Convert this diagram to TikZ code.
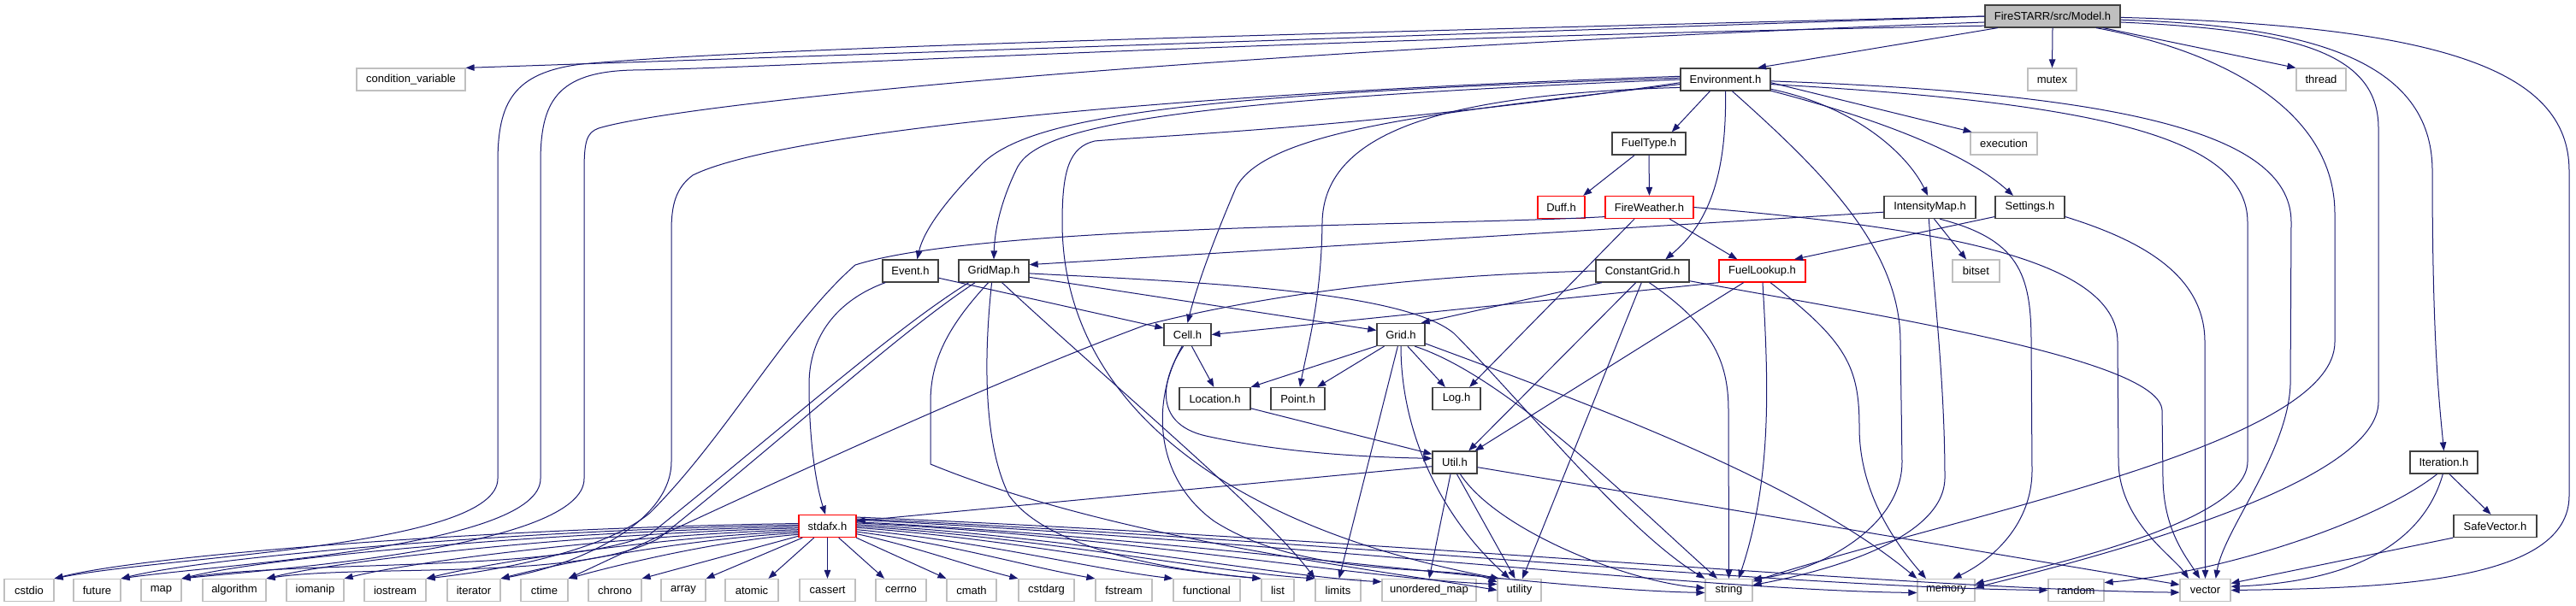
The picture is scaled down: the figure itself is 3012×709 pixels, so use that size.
\documentclass[tikz,border=0pt]{standalone}
\usepackage{fontspec}
\setmainfont{Liberation Sans}
\usetikzlibrary{arrows.meta}
\definecolor{edgecol}{HTML}{191970}
\definecolor{sysgray}{HTML}{BFBFBF}
\definecolor{prjdark}{HTML}{404040}
\definecolor{truncred}{HTML}{FF0000}
\begin{document}
\begin{tikzpicture}[x=1pt,y=-1pt,
  box/.style={rectangle, inner sep=0pt, minimum height=26pt, font=\fontsize{13}{15}\selectfont, text=black},
  sys/.style={box, draw=sysgray, line width=1.2pt},
  prj/.style={box, draw=prjdark, line width=1.3pt},
  trn/.style={box, draw=truncred, line width=1.3pt},
  wd/.style={minimum width=#1},
  e/.style={draw=edgecol, line width=1pt, -{Triangle[length=10pt,width=7.5pt]}}
]
\useasboundingbox (0,0) rectangle (3012,709);
\fill[white] (0,0) rectangle (3012,709);

% ---------- nodes ----------
\node[prj,wd=158,fill=sysgray] (model) at (2400,19) {FireSTARR/src/Model.h};
\node[sys,wd=127] (condvar) at (480.5,93) {condition\_variable};
\node[prj,wd=105] (env) at (2017.5,93) {Environment.h};
\node[sys,wd=57] (mutex) at (2399.5,93) {mutex};
\node[sys,wd=58] (thread) at (2714,93) {thread};
\node[prj,wd=86] (fueltype) at (1928,168) {FuelType.h};
\node[sys,wd=78] (execution) at (2343,168) {execution};
\node[trn,wd=55] (duff) at (1825.5,242.5) {Duff.h};
\node[trn,wd=103] (fireweather) at (1928.5,242.5) {FireWeather.h};
\node[prj,wd=107] (intensity) at (2256.5,242.5) {IntensityMap.h};
\node[prj,wd=81] (settings) at (2373.5,242.5) {Settings.h};
\node[prj,wd=65] (event) at (1064.5,317) {Event.h};
\node[prj,wd=82] (gridmap) at (1162,317) {GridMap.h};
\node[prj,wd=109] (constgrid) at (1920.5,317) {ConstantGrid.h};
\node[trn,wd=101] (fuellookup) at (2060.5,317) {FuelLookup.h};
\node[sys,wd=55] (bitset) at (2310.5,317) {bitset};
\node[prj,wd=55] (cell) at (1388.5,391.5) {Cell.h};
\node[prj,wd=56] (grid) at (1638,391.5) {Grid.h};
\node[prj,wd=83] (location) at (1420.5,466.5) {Location.h};
\node[prj,wd=63] (point) at (1517.5,466.5) {Point.h};
\node[prj,wd=56] (log) at (1703,466.5) {Log.h};
\node[prj,wd=52] (util) at (1701,541) {Util.h};
\node[prj,wd=79] (iteration) at (2857.5,541) {Iteration.h};
\node[trn,wd=67] (stdafx) at (967.5,615.5) {stdafx.h};
\node[prj,wd=97] (safevector) at (2917.5,615.5) {SafeVector.h};
\node[sys,wd=58] (cstdio) at (34,690.5) {cstdio};
\node[sys,wd=55] (future) at (113.5,690.5) {future};
\node[sys,wd=47] (map) at (188.5,690.5) {map};
\node[sys,wd=74] (algorithm) at (274,690.5) {algorithm};
\node[sys,wd=67] (iomanip) at (368.5,690.5) {iomanip};
\node[sys,wd=72] (iostream) at (462,690.5) {iostream};
\node[sys,wd=62] (iterator) at (554,690.5) {iterator};
\node[sys,wd=55] (ctime) at (636.5,690.5) {ctime};
\node[sys,wd=62] (chrono) at (719,690.5) {chrono};
\node[sys,wd=52] (array) at (799,690.5) {array};
\node[sys,wd=62] (atomic) at (879,690.5) {atomic};
\node[sys,wd=65] (cassert) at (967.5,690.5) {cassert};
\node[sys,wd=59] (cerrno) at (1053.5,690.5) {cerrno};
\node[sys,wd=58] (cmath) at (1136,690.5) {cmath};
\node[sys,wd=65] (cstdarg) at (1223.5,690.5) {cstdarg};
\node[sys,wd=66] (fstream) at (1314,690.5) {fstream};
\node[sys,wd=78] (functional) at (1411,690.5) {functional};
\node[sys,wd=38] (list) at (1494,690.5) {list};
\node[sys,wd=53] (limits) at (1564.5,690.5) {limits};
\node[sys,wd=110] (umap) at (1671,690.5) {unordered\_map};
\node[sys,wd=51] (utility) at (1776.5,690.5) {utility};
\node[sys,wd=55] (string) at (2021.5,690.5) {string};
\node[sys,wd=67] (memory) at (2275.5,690.5) {memory};
\node[sys,wd=65] (random) at (2427.5,690.5) {random};
\node[sys,wd=59] (vector) at (2578.5,690.5) {vector};

% ---------- Model.h ----------
\draw[e] (model.west) -- (condvar.north east);
\draw[e] (model.west) .. controls (1500,40) and (900,55) .. (680,75) .. controls (600,85) and (582,120) .. (582,190) -- (582,560) .. controls (582,640) and (200,650) .. (cstdio.north east);
\draw[e] (model.188) .. controls (1500,45) and (900,80) .. (740,82) .. controls (650,84) and (632,120) .. (632,190) -- (632,560) .. controls (632,640) and (260,660) .. (future.north east);
\draw[e] (model.185) .. controls (1400,60) and (800,120) .. (700,150) .. controls (686,155) and (683,165) .. (683,200) -- (683,560) .. controls (683,640) and (330,665) .. (map.north east);
\draw[e] (model.192) -- (env.20);
\draw[e] (model.south) -- (mutex.north);
\draw[e] (model.-13) -- (thread.north west);
\draw[e] (model.-3) .. controls (2700,30) and (2844,70) .. (2844,200) .. controls (2844,400) and (2852,470) .. (iteration.north);
\draw[e] (model.-1) .. controls (2850,30) and (3004,80) .. (3004,200) -- (3004,580) .. controls (3004,680) and (2800,688) .. (vector.east);
\draw[e] (model.-5) .. controls (2680,35) and (2781,60) .. (2781,150) -- (2781,470) .. controls (2781,560) and (2500,640) .. (memory.5);
\draw[e] (model.-15) .. controls (2600,60) and (2730,130) .. (2730,250) -- (2730,400) .. controls (2730,520) and (2300,600) .. (string.20);

% ---------- Environment.h ----------
\draw[e] (env.217) -- (fueltype.27);
\draw[e] (env.south) .. controls (2019,200) and (2000,260) .. (constgrid.27);
\draw[e] (env.-60) .. controls (2130,200) and (2222,290) .. (2222,400) -- (2224,540) .. controls (2224,620) and (2120,670) .. (string.25);
\draw[e] (env.-12) .. controls (2170,125) and (2230,180) .. (intensity.100);
\draw[e] (env.-14) .. controls (2200,140) and (2300,180) .. (settings.145);
\draw[e] (env.-4) -- (execution.160);
\draw[e] (env.-6) .. controls (2450,120) and (2628,160) .. (2628,260) -- (2628,540) .. controls (2628,610) and (2400,660) .. (memory.12);
\draw[e] (env.-2) .. controls (2500,110) and (2679,160) .. (2679,260) -- (2678,450) .. controls (2675,530) and (2600,620) .. (vector.48);
\draw[e] (env.190) .. controls (1700,110) and (1548,150) .. (1546,260) .. controls (1545,350) and (1530,400) .. (point.80);
\draw[e] (env.186) .. controls (1700,130) and (1480,150) .. (1445,220) .. controls (1415,290) and (1398,340) .. (cell.north);
\draw[e] (env.178) .. controls (1400,110) and (1210,135) .. (1150,190) .. controls (1105,235) and (1080,270) .. (event.60);
\draw[e] (env.180) .. controls (1350,118) and (1215,150) .. (1190,195) .. controls (1170,235) and (1163,270) .. (gridmap.north);
\draw[e] (env.176) .. controls (1300,112) and (900,160) .. (810,205) .. controls (790,220) and (785,240) .. (785,270) -- (785,540) .. controls (785,610) and (680,660) .. (iterator.north east);
\draw[e] (env.184) .. controls (1600,150) and (1330,160) .. (1280,165) .. controls (1250,172) and (1242,200) .. (1242,260) .. controls (1242,480) and (1450,620) .. (utility.150);

% ---------- FuelType.h ----------
\draw[e] (fueltype.219) -- (duff.28);
\draw[e] (fueltype.south) -- (fireweather.north);

% ---------- FireWeather.h ----------
\draw[e] (fireweather.-30) -- (fuellookup.155);
\draw[e] (fireweather.218) -- (log.42);
\draw[e] (fireweather.east) .. controls (2250,265) and (2476,300) .. (2476,400) -- (2477,540) .. controls (2478,610) and (2540,650) .. (vector.145);
\draw[e] (fireweather.192) .. controls (1700,264) and (1150,262) .. (1000,310) .. controls (920,380) and (850,510) .. (760,600) .. controls (700,650) and (560,670) .. (iostream.north east);

% ---------- FuelLookup.h ----------
\draw[e] (fuellookup.195) -- (cell.east);
\draw[e] (fuellookup.212) -- (util.30);
\draw[e] (fuellookup.-88) .. controls (2068,450) and (2072,560) .. (string.50);
\draw[e] (fuellookup.-55) .. controls (2160,400) and (2174,430) .. (2174,500) .. controls (2174,580) and (2220,640) .. (memory.150);

% ---------- ConstantGrid.h ----------
\draw[e] (constgrid.196) -- (grid.30);
\draw[e] (constgrid.-120) -- (util.40);
\draw[e] (constgrid.-95) -- (utility.75);
\draw[e] (constgrid.-60) .. controls (2000,380) and (2021,420) .. (2021,480) -- (string.north);
\draw[e] (constgrid.-12) .. controls (2200,370) and (2525,420) .. (2528,480) -- (2529,560) .. controls (2530,620) and (2555,650) .. (vector.115);
\draw[e] (constgrid.west) .. controls (1650,322) and (1480,345) .. (1340,380) .. controls (1150,450) and (850,590) .. (ctime.north east);

% ---------- GridMap.h ----------
\draw[e] (gridmap.-10) -- (grid.170);
\draw[e] (gridmap.-4) .. controls (1400,330) and (1640,340) .. (1700,390) .. controls (1780,470) and (1900,620) .. (string.north west);
\draw[e] (gridmap.-115) .. controls (1110,380) and (1088,420) .. (1088,470) -- (1088,543) .. controls (1300,630) and (1600,665) .. (utility.west);
\draw[e] (gridmap.-100) .. controls (1150,420) and (1150,520) .. (1180,580) .. controls (1230,650) and (1400,670) .. (list.north west);
\draw[e] (gridmap.-55) .. controls (1300,450) and (1480,600) .. (limits.north west);
\draw[e] (gridmap.-148) .. controls (1050,390) and (920,510) .. (770,630) .. controls (680,680) and (420,660) .. (algorithm.north east);
\draw[e] (gridmap.-155) .. controls (1045,385) and (910,505) .. (760,625) .. controls (660,670) and (350,655) .. (map.north east);

% ---------- Event.h ----------
\draw[e] (event.-14) -- (cell.165);
\draw[e] (event.205) .. controls (995,345) and (946,380) .. (946,450) .. controls (946,520) and (955,570) .. (stdafx.100);

% ---------- Cell.h ----------
\draw[e] (cell.-70) -- (location.95);
\draw[e] (cell.-110) .. controls (1360,440) and (1345,495) .. (1410,510) .. controls (1500,530) and (1600,535) .. (util.170);
\draw[e] (cell.-115) .. controls (1345,470) and (1350,560) .. (1420,610) .. controls (1530,680) and (1700,660) .. (utility.160);

% ---------- Location.h ----------
\draw[e] (location.-15) -- (util.160);

% ---------- Grid.h ----------
\draw[e] (grid.205) -- (location.north east);
\draw[e] (grid.215) -- (point.31);
\draw[e] (grid.-60) -- (log.134);
\draw[e] (grid.-105) -- (limits.85);
\draw[e] (grid.-90) .. controls (1638,500) and (1680,600) .. (utility.130);
\draw[e] (grid.-40) .. controls (1760,440) and (1900,580) .. (string.135);
\draw[e] (grid.-20) .. controls (1850,470) and (2100,560) .. (memory.north west);

% ---------- Util.h ----------
\draw[e] (util.190) -- (stdafx.10);
\draw[e] (util.-110) -- (umap.north);
\draw[e] (util.-80) -- (utility.110);
\draw[e] (util.-65) .. controls (1750,620) and (1900,680) .. (string.175);
\draw[e] (util.-12) -- (vector.168);

% ---------- Settings.h ----------
\draw[e] (settings.195) -- (fuellookup.20);
\draw[e] (settings.-15) .. controls (2500,280) and (2578,320) .. (2578,400) -- (vector.north);

% ---------- IntensityMap.h ----------
\draw[e] (intensity.186) -- (gridmap.10);
\draw[e] (intensity.-70) -- (bitset.130);
\draw[e] (intensity.-95) .. controls (2262,350) and (2274,450) .. (2274,560) .. controls (2272,640) and (2100,675) .. (string.12);
\draw[e] (intensity.-50) .. controls (2360,280) and (2375,320) .. (2375,400) -- (2376,550) .. controls (2376,620) and (2320,660) .. (memory.60);

% ---------- Iteration.h / SafeVector.h ----------
\draw[e] (iteration.-120) .. controls (2780,610) and (2600,670) .. (random.15);
\draw[e] (iteration.-95) .. controls (2835,630) and (2760,680) .. (vector.8);
\draw[e] (iteration.-65) -- (safevector.110);
\draw[e] (safevector.south west) -- (vector.15);

% ---------- stdafx.h ----------
\draw[e] (stdafx.175) .. controls +(-350,5) and +(110,-28) .. (cstdio.north east);
\draw[e] (stdafx.178) .. controls +(-320,5) and +(100,-25) .. (future.north east);
\draw[e] (stdafx.181) .. controls +(-290,6) and +(100,-25) .. (map.north east);
\draw[e] (stdafx.184) .. controls +(-250,6) and +(90,-22) .. (algorithm.north east);
\draw[e] (stdafx.187) .. controls +(-210,7) and +(80,-20) .. (iomanip.north east);
\draw[e] (stdafx.190) .. controls +(-175,8) and +(70,-18) .. (iostream.north east);
\draw[e] (stdafx.193) .. controls +(-140,8) and +(60,-16) .. (iterator.north east);
\draw[e] (stdafx.196) .. controls +(-100,8) and +(50,-14) .. (ctime.north east);
\draw[e] (stdafx.199) -- (chrono.north east);
\draw[e] (stdafx.205) -- (array.north east);
\draw[e] (stdafx.221) -- (atomic.35);
\draw[e] (stdafx.south) -- (cassert.north);
\draw[e] (stdafx.-46) -- (cerrno.145);
\draw[e] (stdafx.-22) -- (cmath.north west);
\draw[e] (stdafx.-15) .. controls +(70,15) and +(-60,-15) .. (cstdarg.north west);
\draw[e] (stdafx.-11) .. controls +(110,14) and +(-80,-14) .. (fstream.north west);
\draw[e] (stdafx.-7) .. controls +(150,14) and +(-100,-12) .. (functional.north west);
\draw[e] (stdafx.-3) .. controls +(190,14) and +(-120,-10) .. (list.north west);
\draw[e] (stdafx.0) .. controls +(220,14) and +(-120,-8) .. (limits.north west);
\draw[e] (stdafx.3) .. controls +(250,14) and +(-120,-6) .. (umap.170);
\draw[e] (stdafx.6) .. controls +(300,14) and +(-150,-6) .. (utility.165);
\draw[e] (stdafx.8) .. controls +(400,20) and +(-200,-4) .. (string.186);
\draw[e] (stdafx.12) .. controls +(500,25) and +(-250,-3) .. (memory.185);
\draw[e] (stdafx.14) .. controls +(550,25) and +(-300,-3) .. (random.west);
\draw[e] (stdafx.17) .. controls +(600,25) and +(-300,-3) .. (vector.185);
\end{tikzpicture}
\end{document}
